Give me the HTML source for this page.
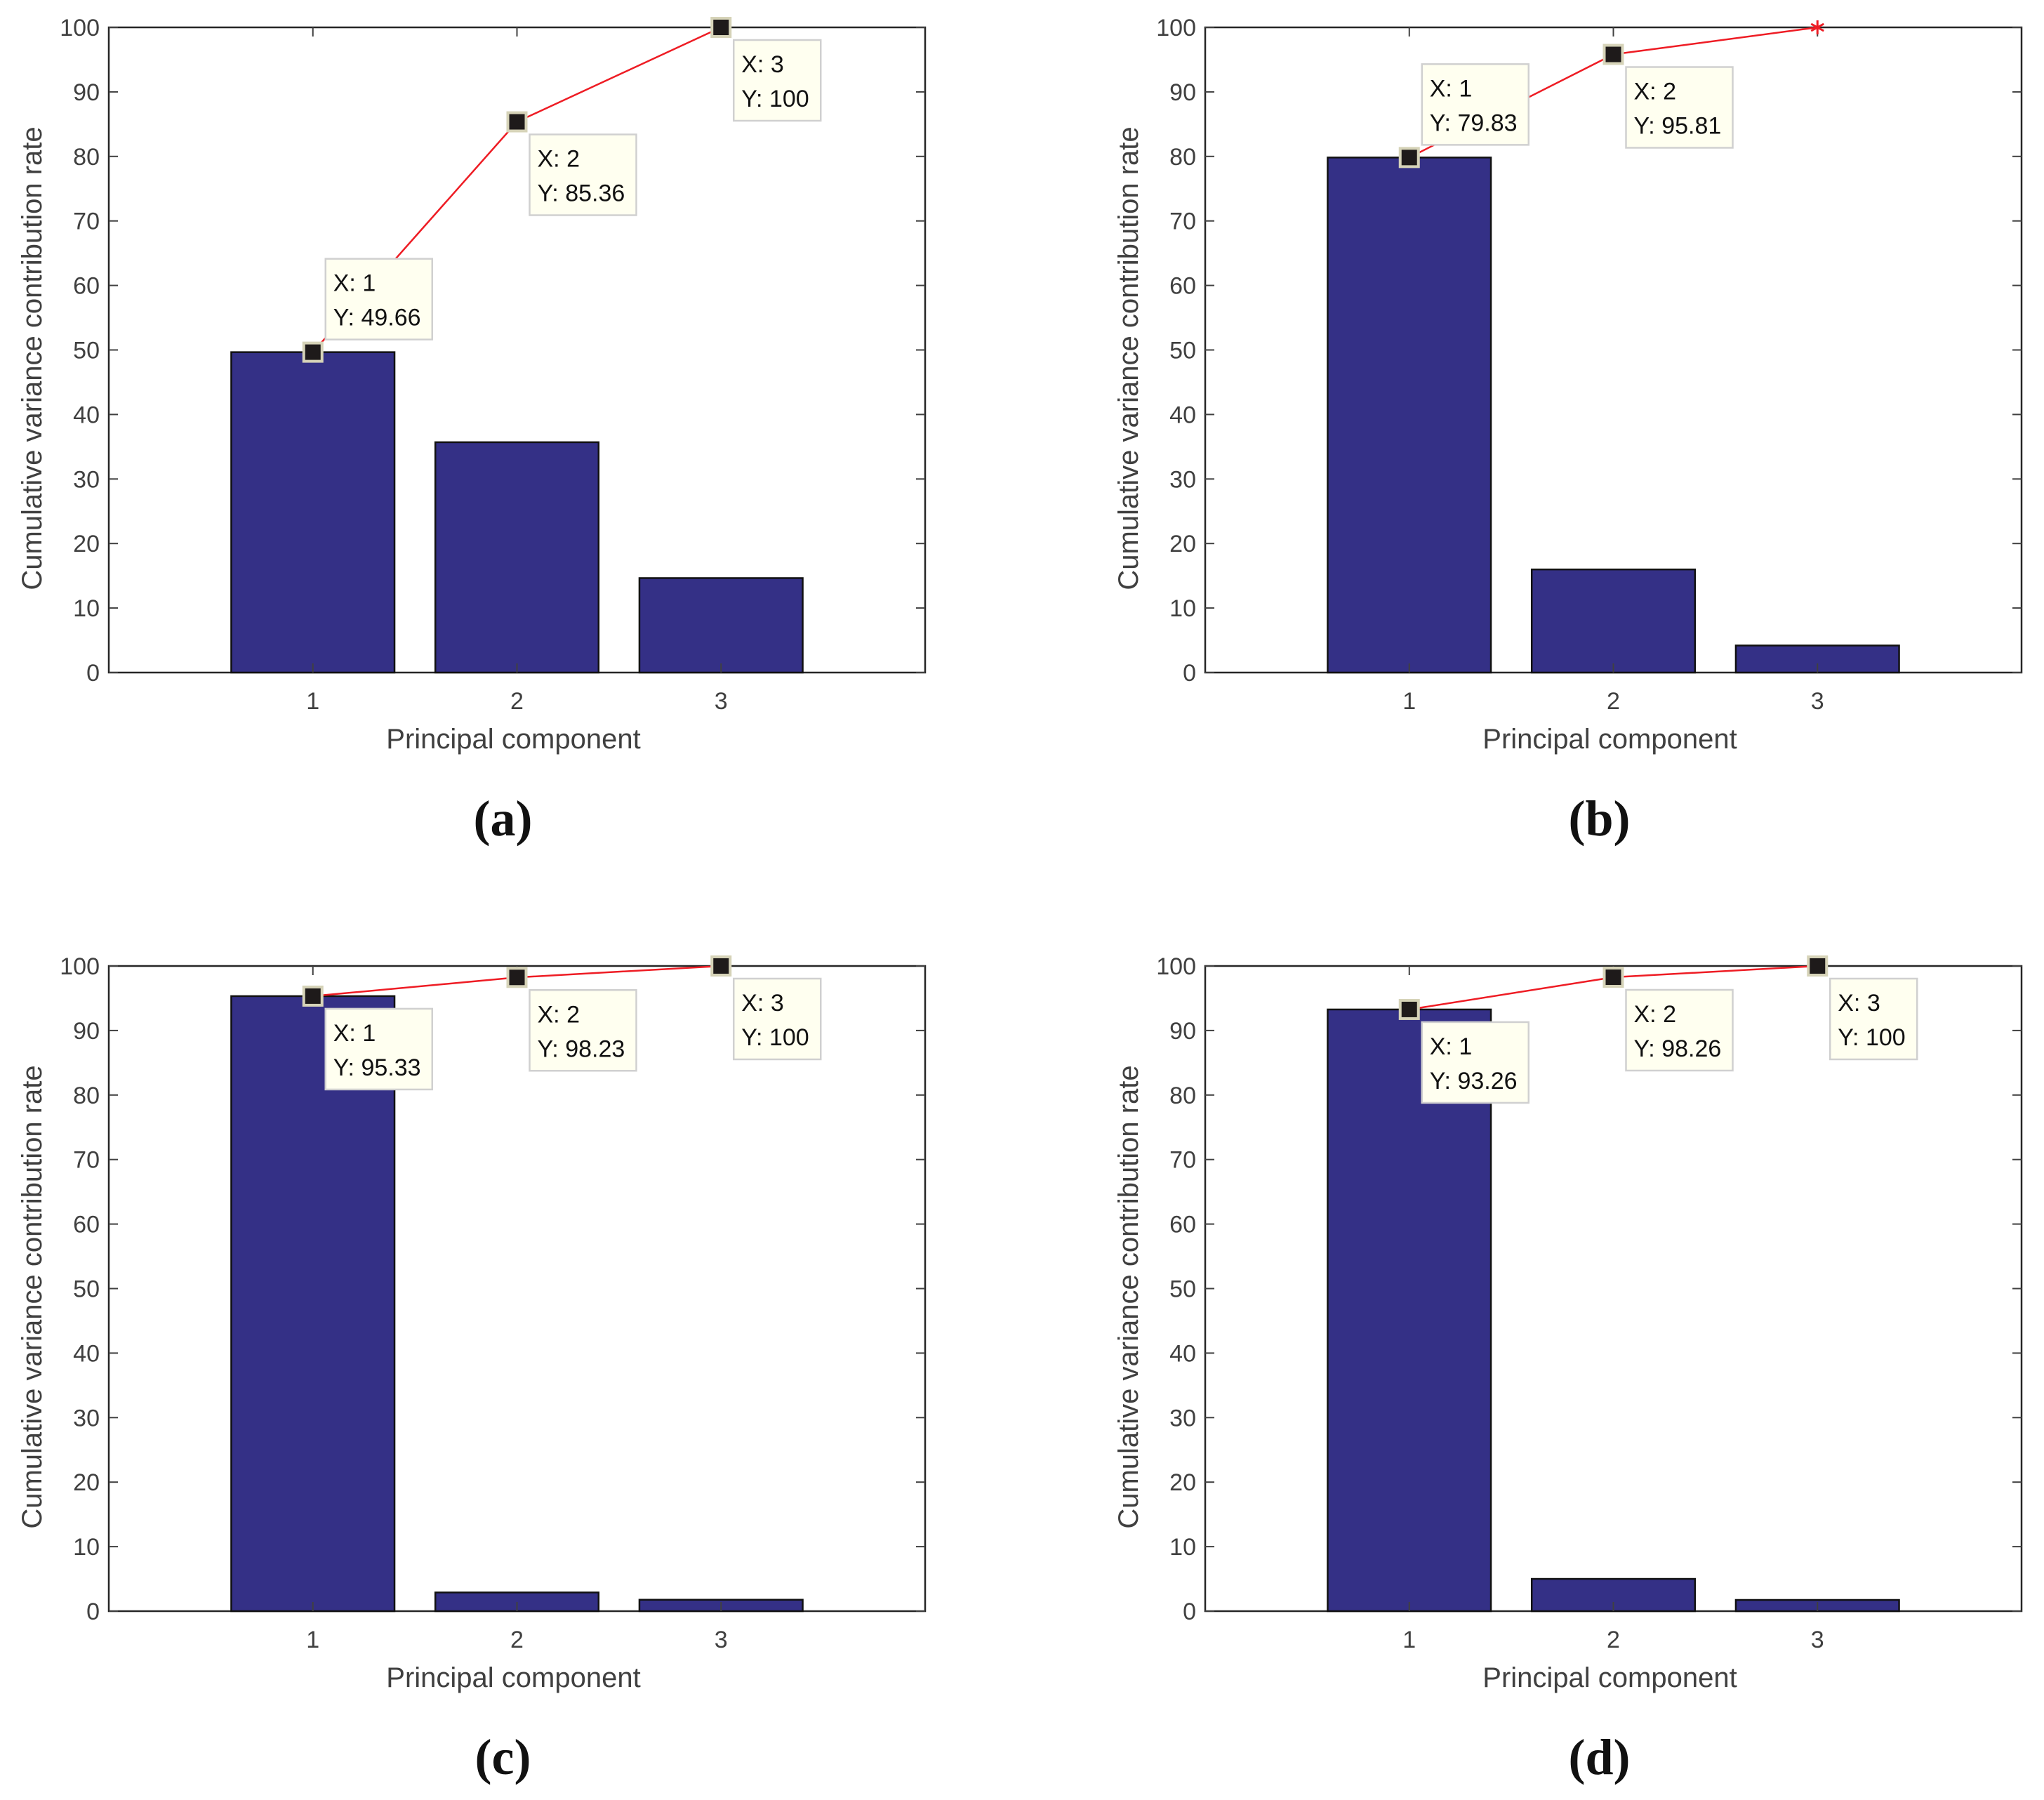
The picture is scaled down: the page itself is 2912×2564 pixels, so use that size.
<!DOCTYPE html>
<html><head><meta charset="utf-8">
<style>
html,body{margin:0;padding:0;background:#fff;}
svg{display:block;}
text{font-family:"Liberation Sans",Arial,sans-serif;}
</style></head>
<body>
<svg id="fig" width="2912" height="2564" viewBox="0 0 2912 2564" xmlns="http://www.w3.org/2000/svg"></svg>
<script>
const categories = [1, 2, 3];
const yTicks = [0, 10, 20, 30, 40, 50, 60, 70, 80, 90, 100];
const panelLabels = ["(a)", "(b)", "(c)", "(d)"];
const barsA = [49.66, 35.70, 14.64];
const barsB = [79.83, 15.98, 4.19];
const barsC = [95.33, 2.90, 1.77];
const barsD = [93.26, 5.00, 1.74];
const cumA = [49.66, 85.36, 100];
const cumB = [79.83, 95.81, 100];
const cumC = [95.33, 98.23, 100];
const cumD = [93.26, 98.26, 100];
const tipLabelsA = ["49.66", "85.36", "100"];
const tipLabelsB = ["79.83", "95.81", null];
const tipLabelsC = ["95.33", "98.23", "100"];
const tipLabelsD = ["93.26", "98.26", "100"];

const NS = "http://www.w3.org/2000/svg";
const svg = document.getElementById("fig");
function mk(tag, attrs, parent) {
  const e = document.createElementNS(NS, tag);
  for (const k in attrs) e.setAttribute(k, attrs[k]);
  (parent || svg).appendChild(e);
  return e;
}

const panels = [
  {ox: 0, oy: 0, bars: barsA, cum: cumA, tips: tipLabelsA, label: panelLabels[0], place: ["above", "below", "below"]},
  {ox: 1562, oy: 0, bars: barsB, cum: cumB, tips: tipLabelsB, label: panelLabels[1], place: ["above", "below", "none"]},
  {ox: 0, oy: 1337, bars: barsC, cum: cumC, tips: tipLabelsC, label: panelLabels[2], place: ["below", "below", "below"]},
  {ox: 1562, oy: 1337, bars: barsD, cum: cumD, tips: tipLabelsD, label: panelLabels[3], place: ["below", "below", "below"]}
];

panels.forEach((p, pi) => {
  const g = mk("g", {});
  
  
  const L = 155 + p.ox, R = 1318 + p.ox, T = 39 + p.oy, B = 958 + p.oy;
  const xs = v => L + (v - 0) / 4 * (R - L);
  const ys = v => B - v / 100 * (B - T);

  const box = mk("rect", {x: L, y: T, width: R - L, height: B - T, fill: "#fff", stroke: "#262626", "stroke-width": 2.5}, g);
  
  

  const bw = 0.8 * (R - L) / 4;
  p.bars.forEach((v, i) => {
    const r = mk("rect", {x: xs(categories[i]) - bw / 2, y: ys(v), width: bw, height: B - ys(v), fill: "#343086", stroke: "#111", "stroke-width": 2.5}, g);
    
    
  });

  yTicks.forEach(t => {
    const y = ys(t);
    mk("line", {x1: L, y1: y, x2: L + 13, y2: y, stroke: "#404040", "stroke-width": 2}, g);
    mk("line", {x1: R, y1: y, x2: R - 13, y2: y, stroke: "#404040", "stroke-width": 2}, g);
    const tl = mk("text", {x: L - 13, y: y + 12, "text-anchor": "end", "font-size": 34, fill: "#404040"}, g);
    tl.textContent = t;
    
    
  });
  categories.forEach(c => {
    const x = xs(c);
    mk("line", {x1: x, y1: B, x2: x, y2: B - 13, stroke: "#404040", "stroke-width": 2}, g);
    mk("line", {x1: x, y1: T, x2: x, y2: T + 13, stroke: "#404040", "stroke-width": 2}, g);
    const tl = mk("text", {x: x, y: B + 52, "text-anchor": "middle", "font-size": 34, fill: "#404040"}, g);
    tl.textContent = c;
    
    
  });

  const xt = mk("text", {x: (L + R) / 2 - 5, y: B + 108, "text-anchor": "middle", "font-size": 40, fill: "#404040"}, g);
  xt.textContent = "Principal component";
  
  
  const yt = mk("text", {x: 0, y: 0, transform: `translate(${59 + p.ox},${(T + B) / 2 + 12}) rotate(-90)`, "text-anchor": "middle", "font-size": 40, fill: "#404040"}, g);
  yt.textContent = "Cumulative variance contribution rate";
  
  

  const pts = p.cum.map((v, i) => xs(categories[i]) + "," + ys(v)).join(" ");
  const ln = mk("polyline", {points: pts, fill: "none", stroke: "#ee1c24", "stroke-width": 2.5}, g);
  
  

  p.cum.forEach((v, i) => {
    const cx = xs(categories[i]), cy = ys(v);
    if (p.place[i] === "none") {
      const st = mk("g", {stroke: "#ee1c24", "stroke-width": 3}, g);
      
      
      mk("line", {x1: cx, y1: cy - 10, x2: cx, y2: cy + 10}, st);
      mk("line", {x1: cx - 9, y1: cy - 5, x2: cx + 9, y2: cy + 5}, st);
      mk("line", {x1: cx - 9, y1: cy + 5, x2: cx + 9, y2: cy - 5}, st);
      return;
    }
    const m = mk("rect", {x: cx - 13, y: cy - 13, width: 26, height: 26, fill: "#1e1a1a", stroke: "#d6d3b8", "stroke-width": 4}, g);
    
    
    const label = p.tips[i];
    const w = label.length >= 5 ? 152 : 124, h = 115;
    const bx = cx + 18;
    const by = p.place[i] === "above" ? cy - 18 - h : cy + 18;
    const tip = mk("g", {}, g);
    
    
    mk("rect", {x: bx, y: by, width: w, height: h, fill: "#fffff0", stroke: "#d0d0d0", "stroke-width": 2.5}, tip);
    const t1 = mk("text", {x: bx + 11, y: by + 46, "font-size": 34, fill: "#111"}, tip);
    t1.textContent = "X: " + categories[i];
    const t2 = mk("text", {x: bx + 11, y: by + 95, "font-size": 34, fill: "#111"}, tip);
    t2.textContent = "Y: " + label;
  });

  const pl = mk("text", {x: (L + R) / 2 - 20, y: B + 232, "text-anchor": "middle", "font-size": 72, "font-weight": "bold", fill: "#111", style: "font-family:'Liberation Serif',serif"}, g);
  pl.textContent = p.label;
  
  
});
</script>
</body></html>
